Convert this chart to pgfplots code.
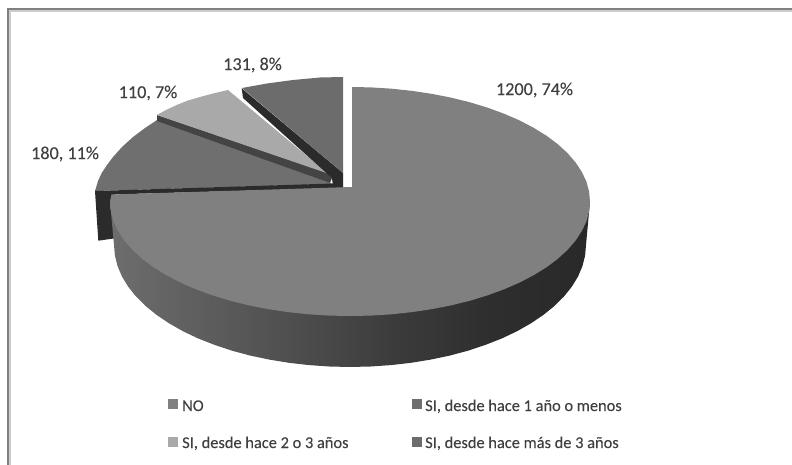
\documentclass[border=0pt]{standalone}
\usepackage{fontspec}
\setmainfont[FakeBold=0.12]{Carlito}
\usepackage{pgfplots}
\pgfplotsset{compat=1.18}
\definecolor{txt}{HTML}{404040}
\definecolor{noTop}{HTML}{808080}
\definecolor{oneTop}{HTML}{6F6F6F}
\definecolor{twoTop}{HTML}{A9A9A9}
\definecolor{threeTop}{HTML}{6C6C6C}
\definecolor{darkSide}{HTML}{2B2B2B}
\definecolor{midSide}{HTML}{444444}
% side wall of the large slice: lighter on the left, nearly black on the right
\pgfdeclarehorizontalshading{wallshade}{100bp}{
  color(0bp)=(white!43!black);
  color(25bp)=(white!43!black);
  color(31bp)=(white!39!black);
  color(39bp)=(white!34!black);
  color(48bp)=(white!28!black);
  color(55bp)=(white!23!black);
  color(65bp)=(white!18!black);
  color(75bp)=(white!16!black);
  color(100bp)=(white!16!black)}
\begin{document}
\begin{tikzpicture}
\begin{axis}[
  scale only axis, width=792pt, height=465pt,
  xmin=0, xmax=792, ymin=0, ymax=465, y dir=reverse,
  axis lines=none, clip=true,
  nodes={text=txt, inner sep=0pt},
]
\path (axis cs:0,0) rectangle (axis cs:792,465);

% frame
\addplot[draw={rgb,255:red,128;green,128;blue,128}, line width=2.4pt] coordinates {(8,465) (8,9) (792,9)};
\addplot[draw={rgb,255:red,205;green,205;blue,205}, line width=1.2pt] coordinates {(10,465) (10,11) (792,11)};

% SI, desde hace 1 año o menos: outer end face
\addplot[fill=darkSide, draw=none] coordinates {(95,191) (98.3,240.7) (115,238.3) (115,192)} -- cycle;
% SI, desde hace 1 año o menos: top
\addplot[fill=oneTop, draw=none] coordinates {(157,120) (145,128) (133,137) (122,147) (113,157) (107,165) (101.7,173) (98,181) (95,191) (333,184)} -- cycle;
\addplot[fill=darkSide, draw=none] coordinates {(95,191) (333,183.5) (343,186) (343,188) (111.5,194.5)} -- cycle;

% SI, desde hace 2 o 3 años: edge and top
\addplot[fill=midSide, draw=none] coordinates {(157,115) (157,121) (330,183) (332,178) (328,173)} -- cycle;
\addplot[fill=twoTop, draw=none] coordinates {(228,90) (213,93.5) (200,97) (188,100.5) (176.7,105) (166,110) (157,115) (328,173.5)} -- cycle;

% SI, desde hace más de 3 años: edge and top
\addplot[fill=darkSide, draw=none] coordinates {(241.7,88.3) (243,98) (332,178) (333,187) (343,187) (343,173)} -- cycle;
\addplot[fill=threeTop, draw=none] coordinates {(343,77) (320,77.5) (293,80) (267,83.5) (242,88) (343,173)} -- cycle;

% NO: side wall
\addplot[shading=wallshade, draw=none] coordinates {
 (590,201.5) (586,245) (585.1,255.6) (582.4,266.2) (578,276.6) (571.8,286.7) (563.9,296.6)
 (554.4,306) (543.3,315) (530.8,323.4) (516.9,331.3) (501.7,338.5) (485.4,344.9) (468,350.7)
 (449.7,355.6) (430.7,359.6) (411.1,362.8) (391,365.1) (370.6,366.5) (350,367) (329.4,366.5)
 (309,365.1) (288.9,362.8) (269.3,359.6) (250.3,355.6) (232,350.7) (214.6,344.9) (198.3,338.5)
 (183.1,331.3) (169.2,323.4) (156.7,315) (145.6,306) (136.1,296.6) (128.2,286.7) (122,276.6)
 (117.6,266.2) (114.9,255.6) (114,245) (110,201.5)} -- cycle;

% NO: top
\addplot[fill=noTop, draw=none] coordinates {
 (352,187) (352,87) (370.9,87.4) (391.7,88.7) (412.1,90.9) (432.1,93.9) (451.4,97.7) (470,102.3)
 (487.7,107.7) (504.3,113.8) (519.7,120.5) (533.8,127.9) (546.6,135.8) (557.8,144.2) (567.5,153.1)
 (575.5,162.3) (581.8,171.9) (586.4,181.6) (589.1,191.5) (590,201.5) (589.1,211.5) (586.4,221.4)
 (581.8,231.1) (575.5,240.7) (567.5,249.9) (557.8,258.8) (546.6,267.2) (533.8,275.1) (519.7,282.5)
 (504.3,289.2) (487.7,295.3) (470,300.7) (451.4,305.3) (432.1,309.1) (412.1,312.1) (391.7,314.3)
 (370.9,315.6) (350,316) (329.1,315.6) (308.3,314.3) (287.9,312.1) (267.9,309.1) (248.6,305.3)
 (230,300.7) (212.3,295.3) (195.7,289.2) (180.3,282.5) (166.2,275.1) (153.4,267.2) (142.2,258.8)
 (132.5,249.9) (124.5,240.7) (118.2,231.1) (113.6,221.4) (110.9,211.5) (110,201.5) (111.5,194.5)} -- cycle;

% data labels
\node[font=\fontsize{18.2}{20}\selectfont] at (axis cs:534.5,90) {1200, 74\%};
\node[font=\fontsize{18.2}{20}\selectfont] at (axis cs:65,154) {180, 11\%};
\node[font=\fontsize{18.2}{20}\selectfont] at (axis cs:148,93) {110, 7\%};
\node[font=\fontsize{18.2}{20}\selectfont] at (axis cs:252.5,65) {131, 8\%};

% legend swatches
\addplot[fill=noTop, draw=none] coordinates {(168,399) (178,399) (178,409) (168,409)} -- cycle;
\addplot[fill=oneTop, draw=none] coordinates {(412,399) (422,399) (422,409) (412,409)} -- cycle;
\addplot[fill=twoTop, draw=none] coordinates {(168,437) (178,437) (178,447) (168,447)} -- cycle;
\addplot[fill=threeTop, draw=none] coordinates {(412,437) (422,437) (422,447) (412,447)} -- cycle;

% legend entries
\node[anchor=base west, font=\fontsize{16.4}{20}\selectfont] at (axis cs:182,411) {NO};
\node[anchor=base west, font=\fontsize{16.4}{20}\selectfont] at (axis cs:425,411) {SI, desde hace 1 año o menos};
\node[anchor=base west, font=\fontsize{16.4}{20}\selectfont] at (axis cs:182,448) {SI, desde hace 2 o 3 años};
\node[anchor=base west, font=\fontsize{16.4}{20}\selectfont] at (axis cs:425,448) {SI, desde hace más de 3 años};
\end{axis}
\end{tikzpicture}
\end{document}
